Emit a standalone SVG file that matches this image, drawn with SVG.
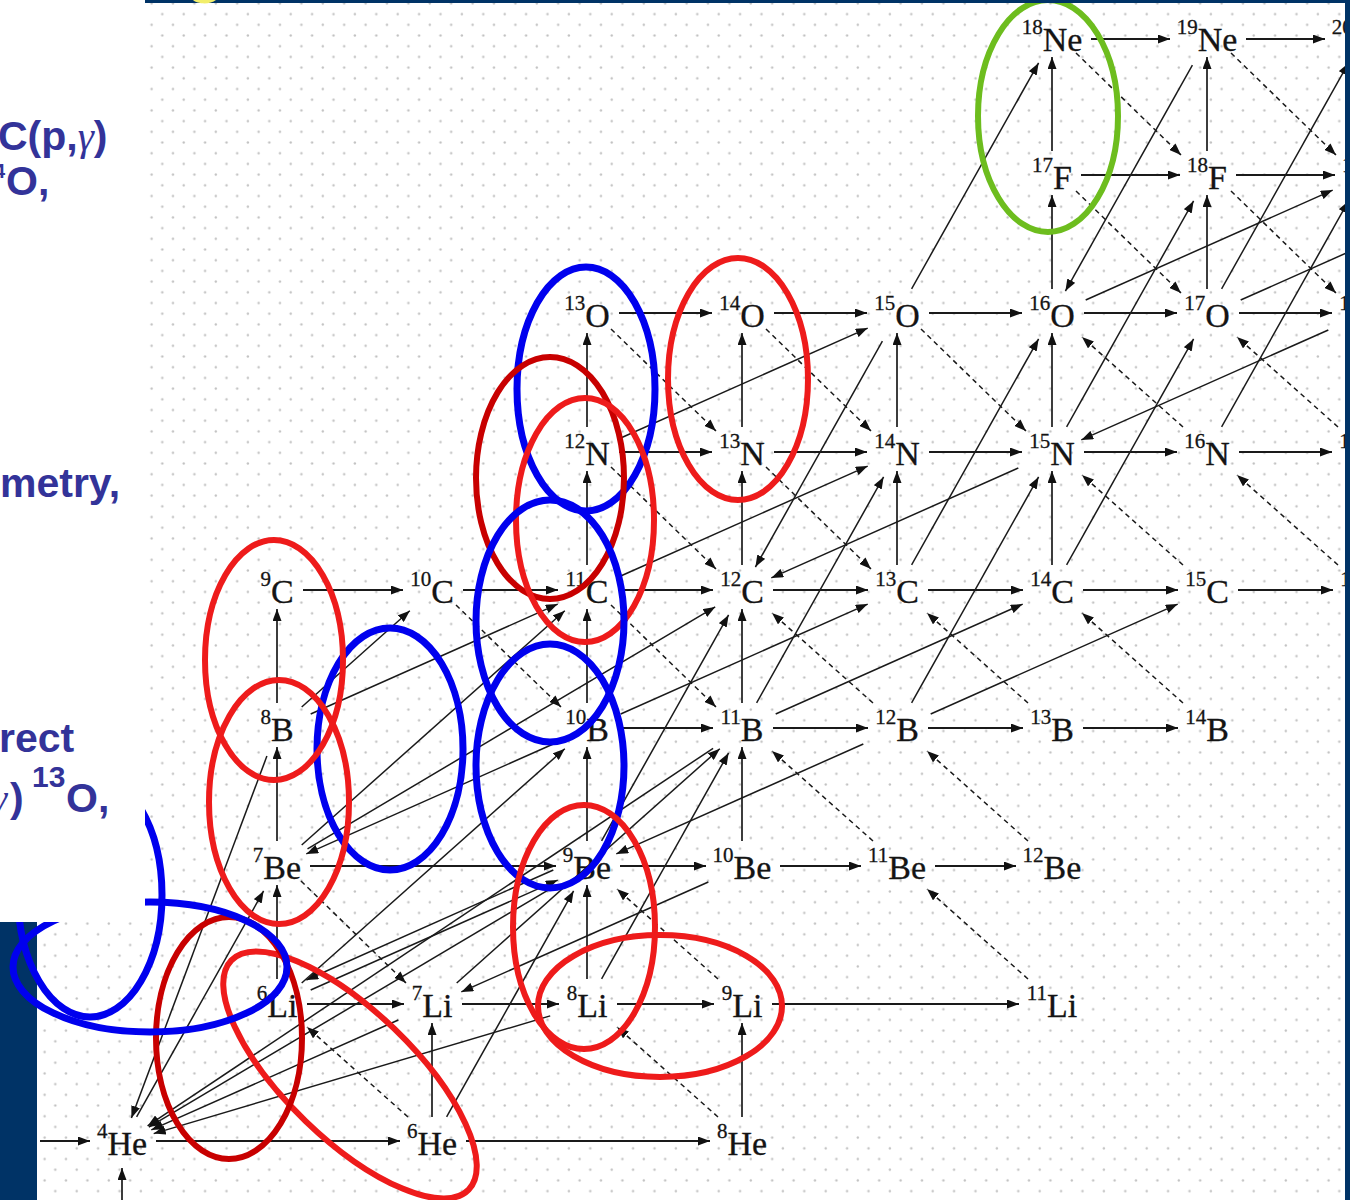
<svg xmlns="http://www.w3.org/2000/svg" width="1350" height="1200" viewBox="0 0 1350 1200">
<style>
.h{stroke:#1a1a1a;stroke-width:2.2;fill:none;marker-end:url(#ah)}
.v{stroke:#1a1a1a;stroke-width:1.7;fill:none;marker-end:url(#ah)}
.s{stroke:#1a1a1a;stroke-width:1.5;fill:none;marker-end:url(#ah)}
.d{stroke:#1a1a1a;stroke-width:1.5;fill:none;stroke-dasharray:5 4;marker-end:url(#ah)}
.nl{font-family:"Liberation Serif","DejaVu Serif",serif;font-size:34px;fill:#141414;stroke:#141414;stroke-width:0.3;text-anchor:middle}
.sp{font-size:21px}
.el{fill:none;stroke-width:6}
.r{stroke:#ee1b1b}
.dr{stroke:#c80000}
.b{stroke:#0000ee;stroke-width:7}
.g{stroke:#6dbd1e}
.t{font-family:"Liberation Sans",Arial,sans-serif;font-weight:bold;font-size:41px;fill:#333399}
.gk{font-family:"Liberation Serif","DejaVu Serif",serif;font-style:italic;font-weight:normal}
.navy{fill:#003366}
</style>
<defs>
<marker id="ah" markerWidth="13" markerHeight="9" refX="12" refY="4.5" orient="auto" markerUnits="userSpaceOnUse"><path d="M0,0 L12,4.5 L0,9 z" fill="#111"/></marker>
<pattern id="dots" width="21.4" height="21.4" patternUnits="userSpaceOnUse"><circle cx="12.5" cy="14" r="1.2" fill="#c2c2c2"/><circle cx="1.8" cy="3.3" r="1.2" fill="#c2c2c2"/></pattern>
</defs>
<rect x="0" y="0" width="1350" height="1200" fill="#ffffff"/>
<rect x="37" y="3" width="1308" height="1197" fill="url(#dots)"/>

<g id="connectors">
<path class="h" d="M40,1141 L90,1141"/>
<path class="h" d="M156,1141 L400,1141"/>
<path class="h" d="M466,1141 L710,1141"/>
<path class="h" d="M307,1004 L404,1004"/>
<path class="h" d="M462,1004 L559,1004"/>
<path class="h" d="M617,1004 L714,1004"/>
<path class="h" d="M772,1004 L1019,1004"/>
<path class="h" d="M310,866 L556,866"/>
<path class="h" d="M620,866 L706,866"/>
<path class="h" d="M780,866 L861,866"/>
<path class="h" d="M935,866 L1016,866"/>
<path class="h" d="M618,728 L713,728"/>
<path class="h" d="M773,728 L868,728"/>
<path class="h" d="M928,728 L1023,728"/>
<path class="h" d="M1083,728 L1178,728"/>
<path class="h" d="M303,590 L403,590"/>
<path class="h" d="M463,590 L558,590"/>
<path class="h" d="M618,590 L713,590"/>
<path class="h" d="M773,590 L868,590"/>
<path class="h" d="M928,590 L1023,590"/>
<path class="h" d="M1083,590 L1178,590"/>
<path class="h" d="M1238,590 L1333,590"/>
<path class="h" d="M619,452 L712,452"/>
<path class="h" d="M774,452 L867,452"/>
<path class="h" d="M929,452 L1022,452"/>
<path class="h" d="M1084,452 L1177,452"/>
<path class="h" d="M1239,452 L1332,452"/>
<path class="h" d="M619,313 L712,313"/>
<path class="h" d="M774,313 L867,313"/>
<path class="h" d="M929,313 L1022,313"/>
<path class="h" d="M1084,313 L1177,313"/>
<path class="h" d="M1239,313 L1332,313"/>
<path class="h" d="M1081,175 L1180,175"/>
<path class="h" d="M1236,175 L1335,175"/>
<path class="h" d="M1091,39 L1170,39"/>
<path class="h" d="M1246,39 L1325,39"/>
<path class="v" d="M122,1200 L122,1168"/>
<path class="v" d="M277,979 L277,885"/>
<path class="v" d="M277,841 L277,747"/>
<path class="v" d="M277,703 L277,609"/>
<path class="v" d="M432,1117 L432,1023"/>
<path class="v" d="M587,979 L587,885"/>
<path class="v" d="M587,841 L587,747"/>
<path class="v" d="M587,703 L587,609"/>
<path class="v" d="M587,565 L587,471"/>
<path class="v" d="M587,427 L587,333"/>
<path class="v" d="M742,1117 L742,1023"/>
<path class="v" d="M742,841 L742,747"/>
<path class="v" d="M742,703 L742,609"/>
<path class="v" d="M742,565 L742,471"/>
<path class="v" d="M742,427 L742,333"/>
<path class="v" d="M897,565 L897,471"/>
<path class="v" d="M897,427 L897,333"/>
<path class="v" d="M1052,565 L1052,471"/>
<path class="v" d="M1052,427 L1052,333"/>
<path class="v" d="M1052,289 L1052,195"/>
<path class="v" d="M1052,151 L1052,57"/>
<path class="v" d="M1207,289 L1207,195"/>
<path class="v" d="M1207,151 L1207,57"/>
<path class="d" d="M1076,53 L1181,155"/>
<path class="d" d="M1231,53 L1336,155"/>
<path class="d" d="M1076,191 L1181,293"/>
<path class="d" d="M1231,191 L1336,293"/>
<path class="d" d="M611,329 L716,431"/>
<path class="d" d="M766,329 L871,431"/>
<path class="d" d="M921,329 L1026,431"/>
<path class="d" d="M611,467 L716,569"/>
<path class="d" d="M766,467 L871,569"/>
<path class="d" d="M456,605 L561,707"/>
<path class="d" d="M611,605 L716,707"/>
<path class="d" d="M301,881 L406,983"/>
<path class="d" d="M408,1117 L307,1027"/>
<path class="d" d="M718,1117 L617,1027"/>
<path class="d" d="M718,979 L617,889"/>
<path class="d" d="M1028,979 L927,889"/>
<path class="d" d="M873,841 L772,751"/>
<path class="d" d="M1028,841 L927,751"/>
<path class="d" d="M873,703 L772,613"/>
<path class="d" d="M1028,703 L927,613"/>
<path class="d" d="M1183,703 L1082,613"/>
<path class="d" d="M1183,565 L1082,475"/>
<path class="d" d="M1338,565 L1237,475"/>
<path class="d" d="M1183,427 L1082,337"/>
<path class="d" d="M1338,427 L1237,337"/>
<path class="s" d="M911.6,288.9 L1038.6,62.9"/>
<path class="s" d="M1066.6,426.9 L1193.6,200.9"/>
<path class="s" d="M911.6,564.9 L1038.6,338.9"/>
<path class="s" d="M1066.6,564.9 L1193.6,338.9"/>
<path class="s" d="M911.6,702.9 L1038.6,476.9"/>
<path class="s" d="M756.6,702.9 L883.6,476.9"/>
<path class="s" d="M601.6,840.9 L728.6,614.9"/>
<path class="s" d="M601.6,978.9 L728.6,752.9"/>
<path class="s" d="M446.6,1116.9 L573.6,890.9"/>
<path class="s" d="M1221.6,288.9 L1348.6,62.9"/>
<path class="s" d="M1221.6,426.9 L1348.6,200.9"/>
<path class="s" d="M136.6,1116.9 L263.6,890.9"/>
<path class="s" d="M1192.4,65.1 L1065.4,291.1"/>
<path class="s" d="M882.4,341.1 L755.4,567.1"/>
<path class="s" d="M620.7,438 L867.7,328.1"/>
<path class="s" d="M620.7,576 L867.7,466.1"/>
<path class="s" d="M620.7,714 L867.7,604.1"/>
<path class="s" d="M775.7,714 L1022.7,604.1"/>
<path class="s" d="M930.7,714 L1177.7,604.1"/>
<path class="s" d="M310.7,714 L557.7,604.1"/>
<path class="s" d="M310.7,990 L557.7,880.1"/>
<path class="s" d="M1085.7,300 L1332.7,190.1"/>
<path class="s" d="M1240.7,300 L1487.7,190.1"/>
<path class="s" d="M1328.3,330 L1081.3,439.9"/>
<path class="s" d="M1018.3,468 L771.3,577.9"/>
<path class="s" d="M863.3,744 L616.3,853.9"/>
<path class="s" d="M708.3,882 L461.3,991.9"/>
<path class="s" d="M553.3,744 L306.3,853.9"/>
<path class="s" d="M553.3,870 L306.3,980"/>
<path class="s" d="M301.7,845 L564.8,610.7"/>
<path class="s" d="M301.7,983 L564.8,748.7"/>
<path class="s" d="M456.7,983 L719.8,748.7"/>
<path class="s" d="M301.7,707 L409.8,610.7"/>
<path class="s" d="M307.5,848.9 L715.2,606.9"/>
<path class="s" d="M266.9,756.1 L131.4,1118"/>
<path class="s" d="M556.5,885.1 L148.8,1127.1"/>
<path class="s" d="M398.3,1020 L151.3,1129.9"/>
<path class="s" d="M550.2,1015.9 L153.7,1133.6"/>
<path class="s" d="M713.1,748.3 L147.6,1125.9"/>
</g>

<g id="He4"><text class="nl" x="122" y="1155"><tspan class="sp" dy="-17">4</tspan><tspan dy="17">He</tspan></text></g>
<g id="He6"><text class="nl" x="432" y="1155"><tspan class="sp" dy="-17">6</tspan><tspan dy="17">He</tspan></text></g>
<g id="He8"><text class="nl" x="742" y="1155"><tspan class="sp" dy="-17">8</tspan><tspan dy="17">He</tspan></text></g>
<g id="Li6"><text class="nl" x="277" y="1017"><tspan class="sp" dy="-17">6</tspan><tspan dy="17">Li</tspan></text></g>
<g id="Li7"><text class="nl" x="432" y="1017"><tspan class="sp" dy="-17">7</tspan><tspan dy="17">Li</tspan></text></g>
<g id="Li8"><text class="nl" x="587" y="1017"><tspan class="sp" dy="-17">8</tspan><tspan dy="17">Li</tspan></text></g>
<g id="Li9"><text class="nl" x="742" y="1017"><tspan class="sp" dy="-17">9</tspan><tspan dy="17">Li</tspan></text></g>
<g id="Li11"><text class="nl" x="1052" y="1017"><tspan class="sp" dy="-17">11</tspan><tspan dy="17">Li</tspan></text></g>
<g id="Be7"><text class="nl" x="277" y="879"><tspan class="sp" dy="-17">7</tspan><tspan dy="17">Be</tspan></text></g>
<g id="Be9"><text class="nl" x="587" y="879"><tspan class="sp" dy="-17">9</tspan><tspan dy="17">Be</tspan></text></g>
<g id="Be10"><text class="nl" x="742" y="879"><tspan class="sp" dy="-17">10</tspan><tspan dy="17">Be</tspan></text></g>
<g id="Be11"><text class="nl" x="897" y="879"><tspan class="sp" dy="-17">11</tspan><tspan dy="17">Be</tspan></text></g>
<g id="Be12"><text class="nl" x="1052" y="879"><tspan class="sp" dy="-17">12</tspan><tspan dy="17">Be</tspan></text></g>
<g id="B8"><text class="nl" x="277" y="741"><tspan class="sp" dy="-17">8</tspan><tspan dy="17">B</tspan></text></g>
<g id="B10"><text class="nl" x="587" y="741"><tspan class="sp" dy="-17">10</tspan><tspan dy="17">B</tspan></text></g>
<g id="B11"><text class="nl" x="742" y="741"><tspan class="sp" dy="-17">11</tspan><tspan dy="17">B</tspan></text></g>
<g id="B12"><text class="nl" x="897" y="741"><tspan class="sp" dy="-17">12</tspan><tspan dy="17">B</tspan></text></g>
<g id="B13"><text class="nl" x="1052" y="741"><tspan class="sp" dy="-17">13</tspan><tspan dy="17">B</tspan></text></g>
<g id="B14"><text class="nl" x="1207" y="741"><tspan class="sp" dy="-17">14</tspan><tspan dy="17">B</tspan></text></g>
<g id="C9"><text class="nl" x="277" y="603"><tspan class="sp" dy="-17">9</tspan><tspan dy="17">C</tspan></text></g>
<g id="C10"><text class="nl" x="432" y="603"><tspan class="sp" dy="-17">10</tspan><tspan dy="17">C</tspan></text></g>
<g id="C11"><text class="nl" x="587" y="603"><tspan class="sp" dy="-17">11</tspan><tspan dy="17">C</tspan></text></g>
<g id="C12"><text class="nl" x="742" y="603"><tspan class="sp" dy="-17">12</tspan><tspan dy="17">C</tspan></text></g>
<g id="C13"><text class="nl" x="897" y="603"><tspan class="sp" dy="-17">13</tspan><tspan dy="17">C</tspan></text></g>
<g id="C14"><text class="nl" x="1052" y="603"><tspan class="sp" dy="-17">14</tspan><tspan dy="17">C</tspan></text></g>
<g id="C15"><text class="nl" x="1207" y="603"><tspan class="sp" dy="-17">15</tspan><tspan dy="17">C</tspan></text></g>
<g id="C16"><text class="nl" x="1362" y="603"><tspan class="sp" dy="-17">16</tspan><tspan dy="17">C</tspan></text></g>
<g id="N12"><text class="nl" x="587" y="465"><tspan class="sp" dy="-17">12</tspan><tspan dy="17">N</tspan></text></g>
<g id="N13"><text class="nl" x="742" y="465"><tspan class="sp" dy="-17">13</tspan><tspan dy="17">N</tspan></text></g>
<g id="N14"><text class="nl" x="897" y="465"><tspan class="sp" dy="-17">14</tspan><tspan dy="17">N</tspan></text></g>
<g id="N15"><text class="nl" x="1052" y="465"><tspan class="sp" dy="-17">15</tspan><tspan dy="17">N</tspan></text></g>
<g id="N16"><text class="nl" x="1207" y="465"><tspan class="sp" dy="-17">16</tspan><tspan dy="17">N</tspan></text></g>
<g id="N17"><text class="nl" x="1362" y="465"><tspan class="sp" dy="-17">17</tspan><tspan dy="17">N</tspan></text></g>
<g id="O13"><text class="nl" x="587" y="327"><tspan class="sp" dy="-17">13</tspan><tspan dy="17">O</tspan></text></g>
<g id="O14"><text class="nl" x="742" y="327"><tspan class="sp" dy="-17">14</tspan><tspan dy="17">O</tspan></text></g>
<g id="O15"><text class="nl" x="897" y="327"><tspan class="sp" dy="-17">15</tspan><tspan dy="17">O</tspan></text></g>
<g id="O16"><text class="nl" x="1052" y="327"><tspan class="sp" dy="-17">16</tspan><tspan dy="17">O</tspan></text></g>
<g id="O17"><text class="nl" x="1207" y="327"><tspan class="sp" dy="-17">17</tspan><tspan dy="17">O</tspan></text></g>
<g id="O18"><text class="nl" x="1362" y="327"><tspan class="sp" dy="-17">18</tspan><tspan dy="17">O</tspan></text></g>
<g id="F17"><text class="nl" x="1052" y="189"><tspan class="sp" dy="-17">17</tspan><tspan dy="17">F</tspan></text></g>
<g id="F18"><text class="nl" x="1207" y="189"><tspan class="sp" dy="-17">18</tspan><tspan dy="17">F</tspan></text></g>
<g id="F19"><text class="nl" x="1362" y="189"><tspan class="sp" dy="-17">19</tspan><tspan dy="17">F</tspan></text></g>
<g id="Ne18"><text class="nl" x="1052" y="51"><tspan class="sp" dy="-17">18</tspan><tspan dy="17">Ne</tspan></text></g>
<g id="Ne19"><text class="nl" x="1207" y="51"><tspan class="sp" dy="-17">19</tspan><tspan dy="17">Ne</tspan></text></g>
<g id="Ne20"><text class="nl" x="1362" y="51"><tspan class="sp" dy="-17">20</tspan><tspan dy="17">Ne</tspan></text></g>

<g id="highlights">
<ellipse class="el g" cx="1048" cy="116" rx="70" ry="116"/>
<ellipse class="el b" cx="586" cy="389" rx="69" ry="122"/>
<ellipse class="el r" cx="738" cy="379" rx="70" ry="121"/>
<ellipse class="el dr" cx="550" cy="478" rx="74" ry="121"/>
<ellipse class="el r" cx="585" cy="520" rx="69" ry="122"/>
<ellipse class="el b" cx="550" cy="621" rx="74" ry="121"/>
<ellipse class="el b" cx="550" cy="766" rx="74" ry="122"/>
<ellipse class="el b" cx="390" cy="749" rx="73" ry="121"/>
<ellipse class="el r" cx="274" cy="660" rx="69" ry="120"/>
<ellipse class="el r" cx="279" cy="802" rx="70" ry="122"/>
<ellipse class="el r" cx="584" cy="927" rx="71" ry="122"/>
<ellipse class="el r" cx="660" cy="1006" rx="122" ry="71"/>
<ellipse class="el r" cx="350" cy="1075" rx="165" ry="64" transform="rotate(44 350 1075)"/>
<ellipse class="el dr" cx="229" cy="1038" rx="73" ry="121"/>
</g>

<g id="frame">
<rect class="navy" x="145" y="0" width="1205" height="3"/>
<rect class="navy" x="1345" y="0" width="5" height="1200"/>
<rect class="navy" x="0" y="922" width="37" height="278"/>
<path d="M193,0 C197,4 210,5 216,0 Z" fill="#f2ee6a"/>
</g>

<g id="highlights2">
<ellipse class="el b" cx="90" cy="895" rx="72" ry="122"/>
<ellipse class="el b" cx="150" cy="967" rx="137" ry="65"/>
</g>

<rect x="0" y="0" width="145" height="922" fill="#ffffff"/>
<g id="caption">
<text class="t" x="-2" y="150">C(p,<tspan class="gk">γ</tspan>)</text>
<text class="t" y="195"><tspan x="-6" font-size="20" dy="-17">4</tspan><tspan x="6" dy="17">O,</tspan></text>
<text class="t" x="0" y="497">metry,</text>
<text class="t" x="-1" y="752">rect</text>
<text class="t" y="812"><tspan class="gk" x="-9">γ</tspan><tspan x="10">)</tspan><tspan x="32" font-size="30" dy="-25">13</tspan><tspan x="66" dy="25">O,</tspan></text>
</g>
</svg>
